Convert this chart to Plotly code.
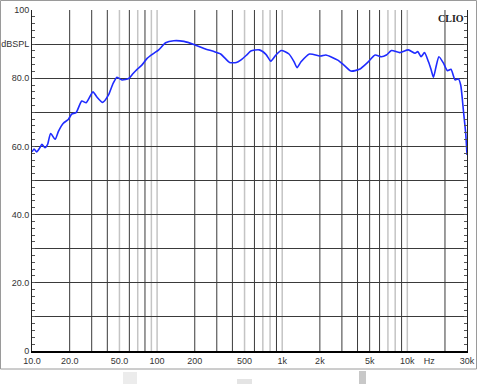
import plotly.graph_objects as go

# ---- data ----
freq_hz = [10, 10.4, 10.9, 11.5, 12.0, 12.7, 13.3, 14.1, 15.3, 16.3, 17.8, 19.5, 20.8, 22.5,
           25.0, 27.1, 30.7, 33.0, 36.7, 40.9, 44.5, 47.8, 52.4, 59.3, 64.0, 69.2, 75.8, 83.2,
           94.1, 103, 117, 136, 164, 197, 237, 285, 322, 350, 380, 430, 466, 520, 561, 655,
           741, 812, 891, 984, 1133, 1245, 1314, 1414, 1650, 2037, 2232, 2780, 3146, 3545,
           4141, 4873, 5525, 6206, 6800, 7470, 8712, 10190, 11530, 12120, 12880, 13720,
           14770, 15500, 16190, 17000, 17900, 19460, 20930, 22330, 24110, 25600, 26720,
           28050, 29290, 30000]
spl_db = [58.4, 59.2, 58.4, 59.5, 60.6, 59.6, 60.5, 63.8, 62.1, 64.5, 66.8, 67.9, 69.5, 69.9,
          73.3, 72.8, 76.0, 74.5, 72.9, 75.1, 78.5, 80.3, 79.5, 79.9, 81.3, 82.6, 83.9, 85.8,
          87.3, 88.3, 90.4, 91.0, 90.8, 89.9, 88.7, 87.8, 87.1, 85.8, 84.6, 84.6, 85.3, 86.8,
          88.0, 88.3, 87.0, 85.0, 86.8, 88.1, 87.1, 84.8, 83.1, 84.8, 87.1, 86.5, 86.8, 85.3,
          83.7, 82.1, 82.6, 84.8, 86.8, 86.3, 86.8, 88.1, 87.5, 88.3, 87.3, 87.8, 86.3, 87.5,
          84.8, 82.5, 80.3, 83.5, 86.3, 84.4, 82.2, 82.6, 79.5, 79.8, 78.0,
          70.7, 63.8, 57.5]

x_tick_vals = [10, 20, 50, 100, 200, 500, 1000, 2000, 5000, 10000, 15000, 30000]
x_tick_text = ["10.0", "20.0", "50.0", "100", "200", "500", "1k", "2k", "5k", "10k", "Hz", "30k"]
y_tick_vals = [0, 10, 20, 30, 40, 50, 60, 70, 80, 90, 100]
y_tick_text = ["0", "", "20.0", "", "40.0", "", "60.0", "", "80.0", "dBSPL", "100"]

grid_dark = [20, 30, 40, 60, 80, 200, 300, 400, 600, 900, 2000, 3000, 4000, 5000, 6000, 9000, 20000]
grid_light = [50, 70, 90, 100, 500, 700, 800, 1000, 7000, 8000, 10000]

fig = go.Figure()
fig.add_trace(go.Scatter(x=freq_hz, y=spl_db, mode="lines",
                         line=dict(color="#1f2bff", width=1.6, shape="spline", smoothing=0.6),
                         hoverinfo="skip", showlegend=False))

shapes = []
for f in grid_light:
    shapes.append(dict(type="line", xref="x", yref="paper", x0=f, x1=f, y0=0, y1=1,
                       line=dict(color="#c4c4c4", width=1.5), layer="below"))
for f in grid_dark:
    shapes.append(dict(type="line", xref="x", yref="paper", x0=f, x1=f, y0=0, y1=1,
                       line=dict(color="#3a3a3a", width=1), layer="below"))
# outer frame
px = lambda p: (p - 32) / 435.0
py = lambda p: (351 - p) / 341.0
shapes.append(dict(type="rect", xref="paper", yref="paper", x0=px(0.5), x1=px(476.5),
                   y0=py(369), y1=py(0.5), line=dict(color="#9a9a9a", width=1)))
# bits of UI under the frame
shapes.append(dict(type="rect", xref="paper", yref="paper", x0=px(123), x1=px(137),
                   y0=py(384), y1=py(372), fillcolor="#ececec", line=dict(width=0)))
shapes.append(dict(type="rect", xref="paper", yref="paper", x0=px(237), x1=px(252),
                   y0=py(384), y1=py(379), fillcolor="#e4e4e4", line=dict(width=0)))
shapes.append(dict(type="rect", xref="paper", yref="paper", x0=px(359), x1=px(366),
                   y0=py(384), y1=py(371), fillcolor="#c8c8c8", line=dict(width=0)))

fig.update_layout(
    width=480, height=384,
    margin=dict(l=32, r=13, t=10, b=33, autoexpand=False),
    paper_bgcolor="white", plot_bgcolor="white",
    font=dict(family="Liberation Sans, Arial, sans-serif", size=9, color="#333333"),
    shapes=shapes,
    annotations=[dict(text="<b>CLIO</b>", xref="paper", yref="paper", x=0.997, y=0.997,
                      xanchor="right", yanchor="top", showarrow=False,
                      font=dict(family="Liberation Serif, Times New Roman, serif", size=10,
                                color="#222222"))],
)
fig.update_xaxes(type="log", range=[1, 4.4771], tickvals=x_tick_vals, ticktext=x_tick_text,
                 showgrid=False, zeroline=False, showline=True, linecolor="black", linewidth=2,
                 ticks="", ticklen=0, automargin=False, tickfont=dict(size=9, color="#333333"))
fig.update_yaxes(range=[0, 100], tickvals=y_tick_vals, ticktext=y_tick_text,
                 showgrid=True, gridcolor="#3a3a3a", gridwidth=1, zeroline=False,
                 showline=True, linecolor="#222222", linewidth=1, mirror="allticks",
                 ticks="inside", ticklen=3, tickcolor="#555555", automargin=False,
                 minor=dict(dtick=2, ticks="inside", ticklen=3, tickcolor="#555555", showgrid=False),
                 tickfont=dict(size=9, color="#333333"))

fig.write_html("out.html")
